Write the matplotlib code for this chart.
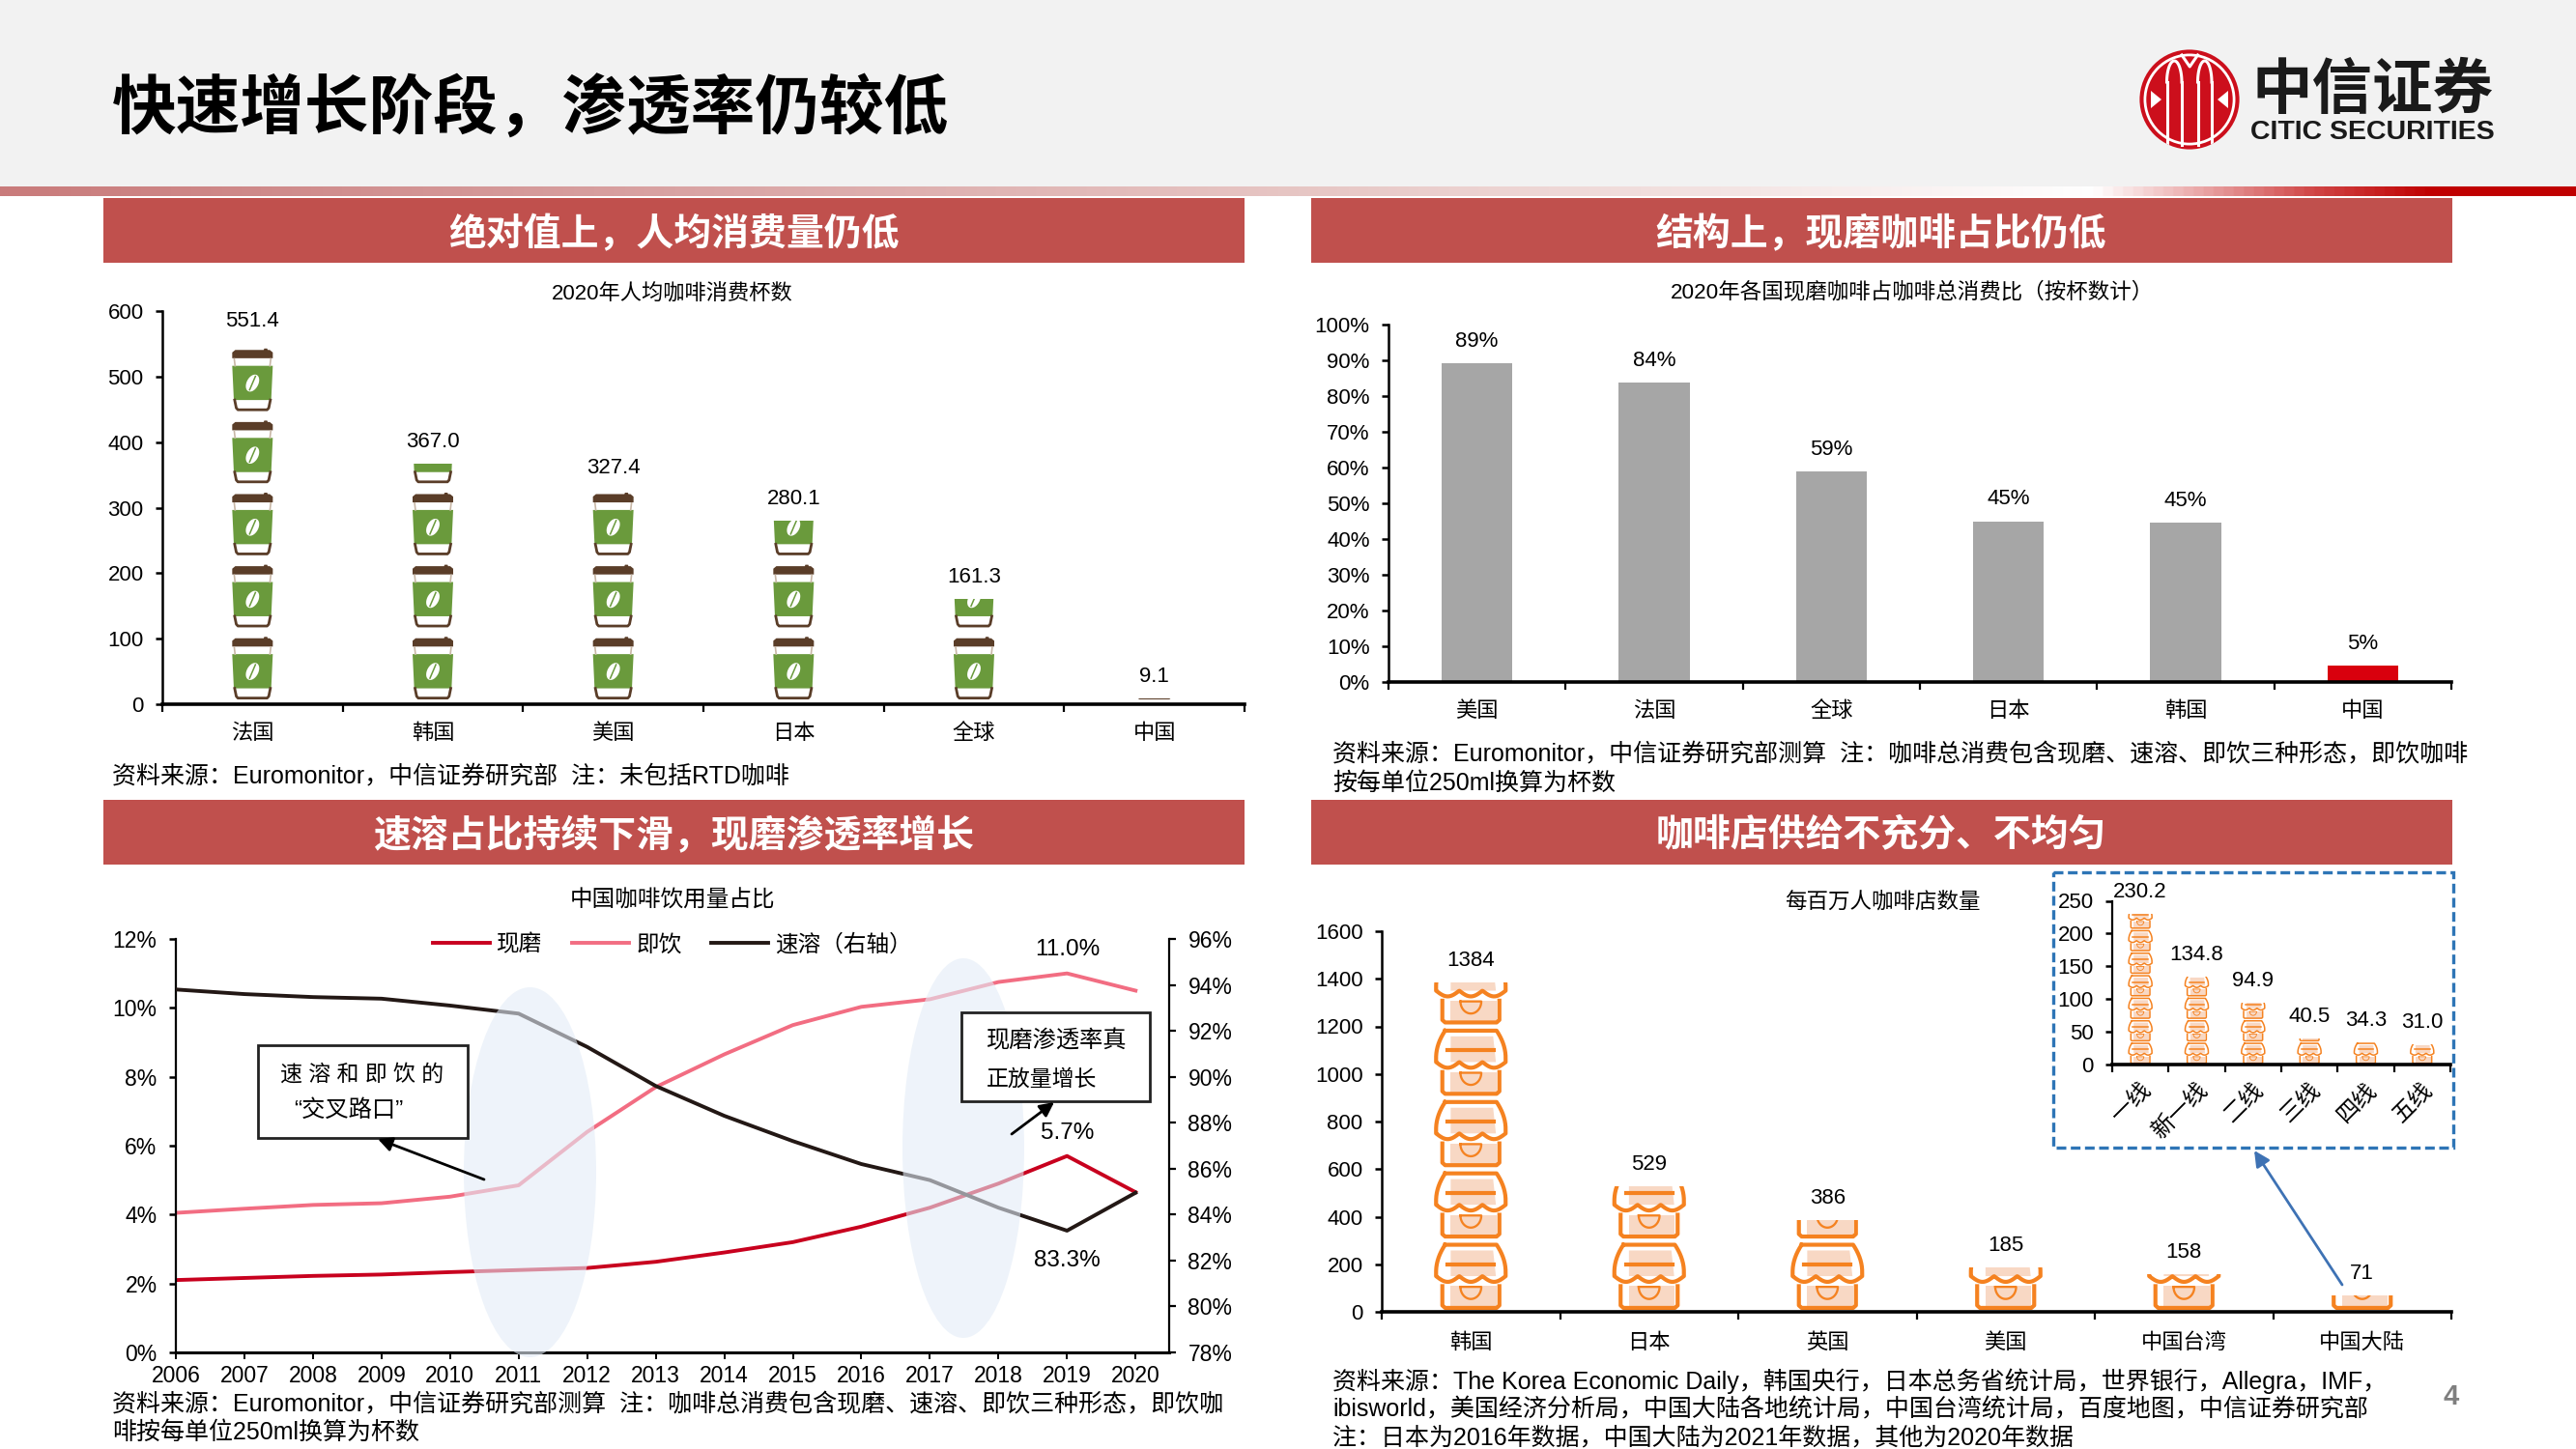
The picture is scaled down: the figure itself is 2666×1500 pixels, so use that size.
import numpy as np
import matplotlib
matplotlib.use("Agg")
import matplotlib.pyplot as plt
from matplotlib.patches import Rectangle, Ellipse, Circle, Polygon
from matplotlib.colors import LinearSegmentedColormap

plt.rcParams['font.family'] = ['Liberation Sans', 'Noto Sans CJK SC']
plt.rcParams['axes.unicode_minus'] = False

# ---------- data ----------
cup_countries = ['法国', '韩国', '美国', '日本', '全球', '中国']
cup_values = [551.4, 367.0, 327.4, 280.1, 161.3, 9.1]

share_countries = ['美国', '法国', '全球', '日本', '韩国', '中国']
share_values = [89.1, 83.7, 59.0, 45.0, 44.5, 4.6]
share_labels = ['89%', '84%', '59%', '45%', '45%', '5%']

years = list(range(2006, 2021))
fresh = [2.10, 2.16, 2.22, 2.26, 2.33, 2.39, 2.45, 2.63, 2.90, 3.20, 3.65, 4.20, 4.90, 5.70, 4.65]
rtd = [4.05, 4.17, 4.28, 4.33, 4.52, 4.85, 6.40, 7.70, 8.65, 9.50, 10.03, 10.25, 10.75, 11.00, 10.50]
instant = [93.8, 93.6, 93.47, 93.4, 93.1, 92.75, 91.3, 89.6, 88.3, 87.2, 86.2, 85.5, 84.3, 83.3, 84.95]

store_regions = ['韩国', '日本', '英国', '美国', '中国台湾', '中国大陆']
store_values = [1384, 529, 386, 185, 158, 71]
tier_names = ['一线', '新一线', '二线', '三线', '四线', '五线']
tier_values = [230.2, 134.8, 94.9, 40.5, 34.3, 31.0]

W, H = 2666, 1500
fig = plt.figure(figsize=(W / 100, H / 100), dpi=100, facecolor='white')

FS = 16


def axes_px(l, t, r, b, **kw):
    return fig.add_axes([l / W, 1 - b / H, (r - l) / W, (b - t) / H], **kw)


def style(ax, lw_bottom=2.6, lw_left=1.8, size=FS):
    ax.patch.set_alpha(0)
    for s in ('top', 'right'):
        ax.spines[s].set_visible(False)
    ax.spines['bottom'].set_linewidth(lw_bottom)
    ax.spines['left'].set_linewidth(lw_left)
    ax.tick_params(axis='y', which='major', length=5, width=1.8, labelsize=size, pad=9)


def cat_axis(ax, names, pad=11, size=FS, **kw):
    n = len(names)
    ax.set_xlim(-0.5, n - 0.5)
    ax.set_xticks(np.arange(n + 1) - 0.5)
    ax.set_xticklabels([])
    ax.set_xticks(np.arange(n), minor=True)
    ax.set_xticklabels(names, minor=True, fontsize=size, **kw)
    ax.tick_params(axis='x', which='major', length=6, width=1.6)
    ax.tick_params(axis='x', which='minor', length=0, pad=pad)


def value_label(ax, x, y, s, off=22.5, size=FS):
    ax.annotate(s, (x, y), xytext=(0, off * 0.72), textcoords='offset points',
                ha='center', va='center', fontsize=size, color='black')


# ---------- pictogram icons ----------
def draw_cup(ax, xc, base, unit, hw, clip):
    dx = hw * (ax.get_xlim()[1] - ax.get_xlim()[0]) / (ax.get_position().width * W)
    py = (ax.get_ylim()[1] - ax.get_ylim()[0]) / (ax.get_position().height * H)
    X = lambda u: xc + np.asarray(u) * dx
    Y = lambda f: base + np.asarray(f) * unit
    brown, green = '#5A3D28', '#6A9A3C'
    arts = []
    arts += ax.fill(X([-1, -1, -.85, .55, .58, .72, .75, .85, 1, 1]),
                    Y([.80, .88, .915, .915, .935, .935, .915, .915, .88, .80]), color=brown, lw=0)
    arts += ax.fill(X([-1, 1, .92, -.92]), Y([.695, .695, .22, .22]), color=green, lw=0)
    arts += ax.plot(X([-.88, -.80, -.72, .72, .80, .88]), Y([.22, .11, .085, .085, .11, .22]),
                    color=brown, lw=2.0, solid_joinstyle='round')
    arts += ax.plot(X([-.9, -.86]), Y([.79, .695]), color='#C8B7A6', lw=1.2)
    arts += ax.plot(X([.9, .86]), Y([.79, .695]), color='#C8B7A6', lw=1.2)
    # coffee bean, built in pixels so that it is round on screen
    t = np.linspace(0, 2 * np.pi, 40)
    a, b, ang = 9.5, 6, np.radians(62)
    bx = a * np.cos(t) * np.cos(ang) - b * np.sin(t) * np.sin(ang)
    by = a * np.cos(t) * np.sin(ang) + b * np.sin(t) * np.cos(ang)
    arts += ax.fill(xc + bx * dx / hw, base + .455 * unit + by * py, color='white', lw=0)
    arts += ax.plot([xc - 3 * dx / hw, xc + 3 * dx / hw],
                    [base + .455 * unit - 7 * py, base + .455 * unit + 7 * py], color=green, lw=1.1)
    for art in arts:
        art.set_clip_path(clip)


def draw_store(ax, xc, base, unit, hw, clip, lw):
    dx = hw * (ax.get_xlim()[1] - ax.get_xlim()[0]) / (ax.get_position().width * W)
    X = lambda u: xc + np.asarray(u) * dx
    Y = lambda f: base + np.asarray(f) * unit
    orange, peach = '#F58220', '#F8D8C4'
    arts = []
    # base
    arts += ax.fill(X([-.58, .74, .74, -.58]), Y([.07, .07, .36, .36]), color=peach, lw=0)
    arts += ax.plot(X([-.82, -.82, -.74, .74, .82, .82]), Y([.36, .09, .055, .055, .09, .36]),
                    color=orange, lw=lw, solid_joinstyle='round')
    # small bowl
    s = np.linspace(0, np.pi, 24)
    arts += ax.plot(X(np.r_[-.3, .3 * np.cos(s), -.3 + 0 * s[:1]]),
                    Y(np.r_[.35, .35 - .17 * np.sin(s), .35]), color=orange, lw=lw * .55)
    # awning
    f_side = np.linspace(.50, .94, 40)
    u_side = 1 - .26 * np.clip((f_side - .56) / .38, 0, 1) ** 2
    u_low = np.linspace(-1, 1, 120)
    f_low = .50 - .08 * np.abs(np.sin(1.5 * np.pi * (u_low + 1)))
    ux = np.r_[-u_side[::-1], u_low, u_side]
    fy = np.r_[f_side[::-1], f_low, f_side]
    arts += ax.fill(X(np.r_[-.58, .64, .72, -.58]), Y(np.r_[.86, .86, .50, .50]), color=peach, lw=0)
    arts += ax.plot(X(np.r_[ux, ux[:1]]), Y(np.r_[fy, fy[:1]]), color=orange, lw=lw, solid_joinstyle='round')
    arts += ax.plot(X([-.66, .66]), Y([.665, .665]), color=orange, lw=lw)
    for art in arts:
        art.set_clip_path(clip)


# ---------- chart 1: cups per person ----------
ax1 = axes_px(168, 322, 1288, 729)
style(ax1)
cat_axis(ax1, cup_countries, pad=14.6)
ax1.set_ylim(0, 600)
ax1.set_yticks(range(0, 601, 100))
CUP_UNIT = 110
bars = ax1.bar(range(len(cup_values)), cup_values, width=0.4, color='none', lw=0)
for i, (bar, v) in enumerate(zip(bars, cup_values)):
    for k in range(int(np.ceil(v / CUP_UNIT))):
        draw_cup(ax1, i, k * CUP_UNIT, CUP_UNIT, 21, bar)
    value_label(ax1, i, v, f'{v:.1f}')

# ---------- chart 2: fresh-ground share ----------
ax2 = axes_px(1437, 336, 2537, 706)
style(ax2)
cat_axis(ax2, share_countries, pad=14.6)
ax2.set_ylim(0, 100)
ax2.set_yticks(range(0, 101, 10))
ax2.set_yticklabels([f'{t}%' for t in range(0, 101, 10)])
ax2.bar(range(len(share_values)), share_values, width=0.4,
        color=['#A6A6A6'] * 5 + ['#D9000D'], lw=0)
for i, (v, s) in enumerate(zip(share_values, share_labels)):
    value_label(ax2, i, v, s)

# ---------- chart 3: mix over time ----------
ax3 = axes_px(182, 972, 1210, 1400)
style(ax3, lw_bottom=2.2, lw_left=1.6, size=16.5)
ax3.set_xlim(2006, 2020.49)
ax3.set_ylim(0, 12)
ax3.set_yticks(range(0, 13, 2))
ax3.set_yticklabels([f'{t}%' for t in range(0, 13, 2)])
ax3.set_xticks(years)
ax3.tick_params(axis='x', length=5, width=1.4, labelsize=16.5, pad=4.4)
l_fresh, = ax3.plot(years, fresh, color='#C8001E', lw=2.8, solid_joinstyle='round')
l_rtd, = ax3.plot(years, rtd, color='#F26D82', lw=2.8, solid_joinstyle='round')
ax3r = ax3.twinx()
ax3r.patch.set_alpha(0)
ax3r.set_ylim(78, 96)
ax3r.set_yticks(range(78, 97, 2))
ax3r.set_yticklabels([f'{t}%' for t in range(78, 97, 2)])
ax3r.tick_params(axis='y', length=5, width=1.6, labelsize=16.5, pad=9)
ax3r.spines['top'].set_visible(False)
ax3r.spines['right'].set_linewidth(1.6)
ax3r.spines['left'].set_visible(False)
ax3r.spines['bottom'].set_visible(False)
l_inst, = ax3r.plot(years, instant, color='#231815', lw=2.8, solid_joinstyle='round')
ax3r.legend([l_fresh, l_rtd, l_inst], ['现磨', '即饮', '速溶（右轴）'], loc='center', bbox_to_anchor=(.5, .986),
            ncol=3, frameon=False, fontsize=17, handlelength=2.5, columnspacing=1.3, handletextpad=.3,
            borderpad=0)
value_label(ax3, 2019, rtd[13], f'{rtd[13]:.1f}%', off=25, size=17.5)
value_label(ax3, 2019, fresh[13], f'{fresh[13]:.1f}%', off=24, size=17.5)
value_label(ax3r, 2019, instant[13], f'{instant[13]:.1f}%', off=-31, size=17.5)

# ---------- chart 4: coffee shops ----------
ax4 = axes_px(1430, 964, 2537, 1358)
style(ax4)
cat_axis(ax4, store_regions, pad=15.6)
ax4.set_ylim(0, 1600)
ax4.set_yticks(range(0, 1601, 200))
STORE_UNIT = 300
bars = ax4.bar(range(len(store_values)), store_values, width=0.45, color='none', lw=0)
for i, (bar, v) in enumerate(zip(bars, store_values)):
    for k in range(int(np.ceil(v / STORE_UNIT))):
        draw_store(ax4, i, k * STORE_UNIT, STORE_UNIT, 36, bar, 3.0)
    value_label(ax4, i, v, str(v))

ax5 = axes_px(2186, 932.5, 2536, 1102)
style(ax5, lw_left=1.6)
cat_axis(ax5, tier_names, pad=11, size=17, rotation=45, ha='right', rotation_mode='anchor')
ax5.set_ylim(0, 250)
ax5.set_yticks(range(0, 251, 50))
TIER_UNIT = 34.4
bars = ax5.bar(range(len(tier_values)), tier_values, width=0.45, color='none', lw=0)
for i, (bar, v) in enumerate(zip(bars, tier_values)):
    for k in range(int(np.ceil(v / TIER_UNIT))):
        draw_store(ax5, i, k * TIER_UNIT, TIER_UNIT, 12, bar, 1.1)
    value_label(ax5, i, v, f'{v:.1f}')

# ---------- page furniture, drawn in pixel coordinates ----------
ov = fig.add_axes([0, 0, 1, 1], zorder=10)
ov.set_xlim(0, W)
ov.set_ylim(H, 0)
ov.axis('off')
bg = fig.add_axes([0, 0, 1, 1], zorder=-5)
bg.set_xlim(0, W)
bg.set_ylim(H, 0)
bg.axis('off')
bg.add_patch(Rectangle((0, 0), W, 193, color='#F2F2F2', lw=0))
stops = [(0, '#C97B7B'), (700 / W, '#D9A3A3'), (1400 / W, '#E8C9C7'), (2170 / W, '#FFFFFF'),
         (2290 / W, '#E8A0A0'), (2400 / W, '#D04545'), (2520 / W, '#C00000'), (1, '#C00000')]
cm = LinearSegmentedColormap.from_list('band', stops)
bg.imshow(np.linspace(0, 1, 1024)[None, :], extent=(0, W, 203, 193), cmap=cm, aspect='auto', zorder=1)
bg.set_xlim(0, W)
bg.set_ylim(H, 0)

ov.text(116, 114, '快速增长阶段，渗透率仍较低', fontsize=48, va='center', ha='left', color='black', weight='bold')

headers = [(107, 205, '绝对值上，人均消费量仍低'), (1357, 205, '结构上，现磨咖啡占比仍低'),
           (107, 828, '速溶占比持续下滑，现磨渗透率增长'), (1357, 828, '咖啡店供给不充分、不均匀')]
for x0, y0, s in headers:
    bg.add_patch(Rectangle((x0, y0), 1181, 67, color='#C0504D', lw=0, zorder=2))
    ov.text(x0 + 590, y0 + 38, s, color='white', fontsize=28, weight='bold', ha='center', va='center')

for x, y, s, fs in [(696, 305, '2020年人均咖啡消费杯数', 16),
                    (1979, 302, '2020年各国现磨咖啡占咖啡总消费比（按杯数计）', 16.2),
                    (696, 932, '中国咖啡饮用量占比', 17),
                    (1948, 935, '每百万人咖啡店数量', 16.2)]:
    ov.text(x, y, s, fontsize=fs, ha='center', va='center')

sources = [
    (116, 803, '资料来源：Euromonitor，中信证券研究部  注：未包括RTD咖啡'),
    (1379, 781, '资料来源：Euromonitor，中信证券研究部测算  注：咖啡总消费包含现磨、速溶、即饮三种形态，即饮咖啡'),
    (1379, 811, '按每单位250ml换算为杯数'),
    (116, 1454, '资料来源：Euromonitor，中信证券研究部测算  注：咖啡总消费包含现磨、速溶、即饮三种形态，即饮咖'),
    (116, 1483, '啡按每单位250ml换算为杯数'),
    (1379, 1430, '资料来源：The Korea Economic Daily，韩国央行，日本总务省统计局，世界银行，Allegra，IMF，'),
    (1379, 1459, 'ibisworld，美国经济分析局，中国大陆各地统计局，中国台湾统计局，百度地图，中信证券研究部'),
    (1379, 1488, '注：日本为2016年数据，中国大陆为2021年数据，其他为2020年数据'),
]
for x, y, s in sources:
    ov.text(x, y, s, fontsize=18, ha='left', va='center')

# highlight ellipses on chart 3
for xc, yc, w, h in [(548.5, 1213.5, 137, 383), (997, 1188.5, 126, 393)]:
    ov.add_patch(Ellipse((xc, yc), w, h, color='#E3ECF7', alpha=.6, lw=0))

# callouts on chart 3
for x0, y0, x1, y1 in [(267, 1082, 484, 1178), (995, 1048, 1190, 1140)]:
    ov.add_patch(Rectangle((x0, y0), x1 - x0, y1 - y0, fc='white', ec='#222222', lw=2))
ov.text(375, 1112, '速 溶 和 即 饮 的', fontsize=16.5, ha='center', va='center')
ov.text(361, 1150, '“交叉路口”', fontsize=17.5, ha='center', va='center')
ov.text(1021, 1078, '现磨渗透率真', fontsize=17.5, ha='left', va='center')
ov.text(1021, 1117, '正放量增长', fontsize=16.5, ha='left', va='center')
for tail, head in [((501, 1221), (391, 1179)), ((1047, 1174), (1091, 1141))]:
    ov.annotate('', xy=head, xytext=tail,
                arrowprops=dict(arrowstyle='-|>', color='black', lw=2, mutation_scale=22, shrinkA=0, shrinkB=0))

# inset frame and pointer on chart 4
ov.add_patch(Rectangle((2125, 903), 414, 285, fc='none', ec='#2E75B6', lw=2.4, ls=(0, (3, 1.4))))
ov.annotate('', xy=(2333, 1191), xytext=(2424, 1330),
            arrowprops=dict(arrowstyle='-|>', color='#3E72B4', lw=2, mutation_scale=24, shrinkA=0, shrinkB=0))

ov.text(2537, 1446, '4', fontsize=21, color='#7F7F7F', weight='bold', ha='center', va='center')

# logo
cx, cy, r = 2266, 103, 51.6
disc = Circle((cx, cy), r, color='#CC0F1C', lw=0)
ov.add_patch(disc)
ov.add_patch(Circle((cx, cy), r - 5.5, fc='none', ec='white', lw=2))
for d in (-23.5, -8, 8.5, 23):
    ln, = ov.plot([cx + d, cx + d], [cy - 18, cy + 47], color='white', lw=2.2)
    ln.set_clip_path(disc)
s = np.linspace(np.pi, 2 * np.pi, 30)
for a0, a1 in [(-23.5, -8), (8.5, 23)]:
    ov.plot((a0 + a1) / 2 + cx + (a1 - a0) / 2 * np.cos(s), cy - 18 + 22 * np.sin(s), color='white', lw=2.2)
ov.plot([cx - 8, cx - 8 + 8.25, cx + 8.5], [cy - 46, cy - 34, cy - 46], color='white', lw=2.2)
for sgn in (-1, 1):
    ov.add_patch(Polygon([(cx + sgn * 40, cy - 9), (cx + sgn * 40, cy + 9), (cx + sgn * 29, cy)], color='white', lw=0))
ov.text(2455, 95, '中信证券', fontsize=45, weight='bold', ha='center', va='center', color='#1A1A1A')
ov.text(2455, 137, 'CITIC SECURITIES', fontsize=20.5, weight='bold', ha='center', va='center', color='#1A1A1A')

fig.savefig('out.png', dpi=100)
